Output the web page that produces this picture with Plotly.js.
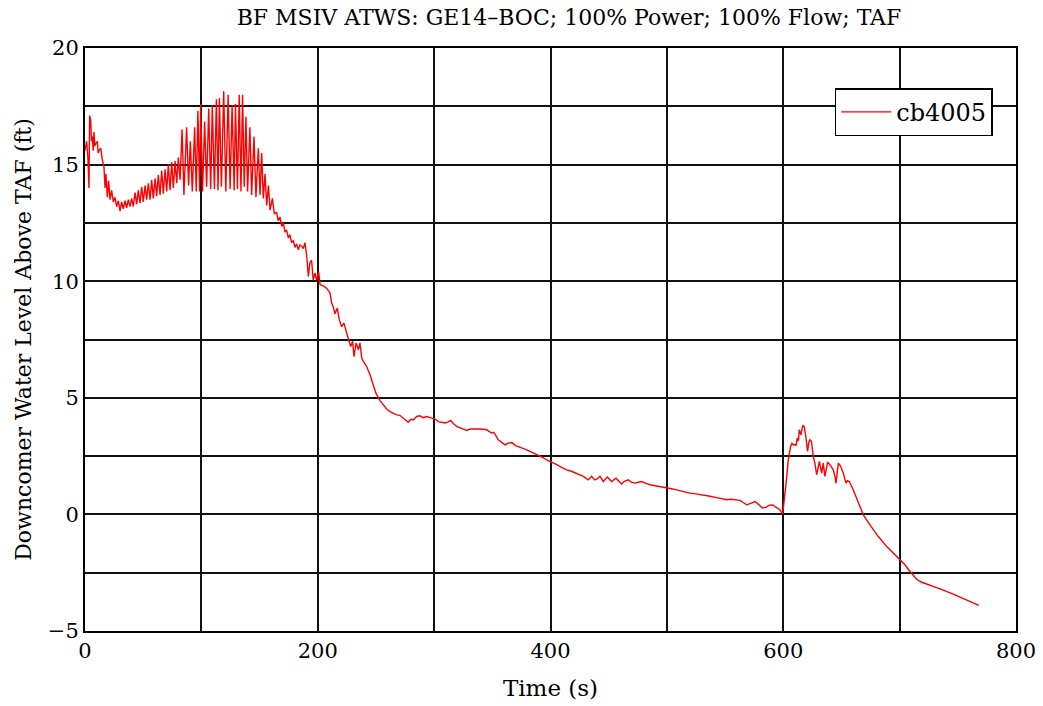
<!DOCTYPE html>
<html>
<head>
<meta charset="utf-8">
<script src="https://cdn.plot.ly/plotly-3.0.1.min.js"></script>
<style>html,body{margin:0;padding:0;background:#fff;}#chart{width:1043px;height:706px;}</style>
</head>
<body>
<div id="chart"></div>
<script>
const seriesName = "cb4005";
const time = [0,1.4,2.6,3.4,4.0,4.9,5.6,6.3,7.0,7.7,8.5,9.2,10.6,11.3,12.0,13.5,14.9,16.3,17.2,18.0,19.2,20.3,21.5,22.9,24.3,25.8,27.2,28.6,30.1,31.5,32.9,34.4,35.8,37.2,38.7,40.1,41.5,43.0,44.4,45.8,47.3,48.7,50.1,51.6,53.0,54.4,55.9,57.3,58.7,60.2,61.6,63.0,64.5,65.9,67.3,68.8,70.2,71.6,73.1,74.5,75.9,77.4,78.8,80.2,81.7,83.4,85.0,87.3,89.0,90.5,92.2,94.2,95.6,97.0,98.5,99.4,101.0,102.8,104.5,106.3,108.0,109.4,111.2,112.9,114.3,115.5,117.2,119.2,121.0,123.0,124.7,126.4,128.2,129.3,131.0,132.5,134.0,135.4,136.8,138.3,139.7,141.7,143.2,145.2,146.9,148.9,150.4,151.8,153.2,154.7,156.1,157.6,159.0,161.0,162.7,164.7,166.0,167.6,169.0,170.5,171.8,173.2,174.7,176.0,177.6,179.0,180.4,181.8,183.3,184.7,186.2,187.6,189.0,190.5,191.9,193.3,194.7,196.1,197.6,199.0,200.8,202.0,204.8,207.6,210.5,212.0,213.3,214.8,216.8,218.5,220.5,222.5,224.9,226.3,228.3,230.0,231.1,232.9,234.9,236.3,237.8,239.2,242.0,244.9,247.7,250.0,253.5,256.3,259.2,262.0,264.9,267.8,270.5,273.5,275.5,277.8,280.0,282.1,285.0,287.8,290.5,293.6,297.9,300.5,303.6,306.5,309.3,312.0,314.2,316.5,319.4,323.0,326.0,328.0,331.0,333.7,338.0,342.0,345.2,347.5,349.5,351.0,352.4,355.1,358.0,360.9,363.5,366.6,370.0,373.8,378.0,382.4,386.0,389.5,393.0,396.7,401.0,405.3,409.5,414.0,418.0,422.5,425.3,428.2,432.5,435.3,438.0,440.0,442.5,445.4,448.8,452.5,456.3,458.5,461.1,463.5,466.8,469.5,472.6,475.5,478.3,482.0,485.5,490.0,494.0,499.8,504.0,508.4,514.0,519.9,525.0,531.3,537.0,542.8,547.0,551.4,555.0,558.5,562.8,566.0,568.6,572.0,575.7,579.0,582.0,585.0,588.0,591.0,594.3,597.0,599.5,601.5,602.8,604.3,606.3,607.5,608.6,610.0,611.0,612.0,613.0,613.8,615.2,616.7,618.0,619.4,620.9,622.0,622.9,624.3,625.8,627.2,628.7,630.0,631.0,633.0,634.4,635.8,637.0,638.1,640.1,643.0,644.5,645.3,647.3,649.3,651.6,653.9,655.0,656.8,660.2,664.5,668.8,674.5,681.7,688.9,697.5,704.6,708.9,714.6,718.5,723.2,734.7,746.1,757.6,766.2,768.0];
const level = [15.6,16.0,15.2,14.0,17.1,16.9,16.0,16.2,15.6,16.4,15.8,15.9,16.0,15.5,15.6,15.7,15.2,14.9,14.0,14.6,13.6,14.3,13.5,13.9,13.4,13.6,13.2,13.45,13.0,13.4,13.1,13.45,13.15,13.5,13.2,13.55,13.2,13.8,13.3,13.9,13.35,14.05,13.4,14.1,13.5,14.2,13.5,14.35,13.55,14.4,13.65,14.55,13.7,14.75,13.75,14.8,13.85,15.0,13.9,15.1,14.0,15.15,14.2,15.3,14.35,16.5,13.7,16.6,14.1,16.0,13.85,16.6,13.85,17.3,13.85,17.6,13.85,16.85,14.05,17.4,13.95,17.55,13.95,17.8,13.9,17.85,14.05,18.15,13.85,18.0,13.95,17.55,13.9,17.6,13.95,18.0,13.85,18.0,14.05,17.05,13.85,16.6,13.7,16.2,13.6,15.7,13.7,15.5,13.55,14.6,13.25,14.1,13.05,13.55,12.9,12.95,12.6,12.75,12.35,12.5,12.1,12.2,11.85,12.0,11.65,11.75,11.45,11.6,11.35,11.55,11.5,11.4,11.65,11.1,10.2,10.8,10.9,10.05,10.35,10.05,10.4,9.85,9.8,9.7,9.5,9.05,8.9,8.6,8.85,8.35,8.05,8.2,7.77,7.49,7.2,7.42,6.77,7.35,7.06,7.35,6.7,6.56,6.34,5.99,5.56,5.2,4.88,4.7,4.52,4.41,4.35,4.27,4.25,4.13,4.05,3.95,4.08,4.05,4.2,4.23,4.15,4.2,4.13,4.1,3.98,3.95,3.92,3.97,4.03,3.9,3.77,3.7,3.65,3.6,3.66,3.67,3.66,3.65,3.63,3.55,3.49,3.52,3.43,3.2,3.1,2.98,3.05,3.08,2.95,2.89,2.8,2.7,2.62,2.56,2.45,2.34,2.25,2.13,2.02,1.91,1.85,1.75,1.7,1.63,1.48,1.63,1.48,1.52,1.63,1.41,1.6,1.41,1.55,1.42,1.3,1.42,1.48,1.38,1.34,1.38,1.41,1.33,1.27,1.23,1.2,1.13,1.1,1.05,0.98,0.91,0.88,0.84,0.78,0.72,0.68,0.63,0.65,0.63,0.6,0.5,0.41,0.47,0.55,0.42,0.27,0.3,0.4,0.41,0.31,0.2,0.01,0.77,1.5,2.34,2.91,3.05,2.98,3.0,2.95,3.27,3.15,3.63,3.41,3.8,3.77,3.34,2.7,3.1,3.2,3.12,2.48,2.2,1.7,2.0,2.27,1.77,2.2,1.63,2.0,2.24,2.13,1.91,1.6,1.34,2.2,2.06,1.77,1.34,1.45,1.41,1.05,0.48,-0.02,-0.45,-0.95,-1.38,-1.83,-2.16,-2.45,-2.78,-2.9,-2.98,-3.19,-3.42,-3.66,-3.85,-3.9];
const xTickVals = [0,100,200,300,400,500,600,700,800];
const xTickText = ["0","","200","","400","","600","","800"];
const yTickVals = [-5,-2.5,0,2.5,5,7.5,10,12.5,15,17.5,20];
const yTickText = ["\u22125","","0","","5","","10","","15","","20"];

const font = "DejaVu Serif";
const trace = {
  x: time, y: level, type: "scatter", mode: "lines", name: seriesName,
  line: {color: "#ff0000", width: 1.4}
};
const axisCommon = {
  showline: true, mirror: true, linecolor: "#000", linewidth: 2,
  showgrid: true, gridcolor: "#111", gridwidth: 2,
  zeroline: false, ticks: "", tickmode: "array",
  tickfont: {family: font, size: 21, color: "#000"}
};
const layout = {
  width: 1043, height: 706,
  margin: {l: 85, r: 27, t: 48, b: 75},
  paper_bgcolor: "#fff", plot_bgcolor: "#fff",
  title: {text: "BF MSIV ATWS: GE14\u2013BOC; 100% Power; 100% Flow; TAF",
          font: {family: font, size: 22, color: "#000"}, x: 0.5455, xanchor: "center", y: 0.975, yanchor: "middle"},
  xaxis: Object.assign({}, axisCommon, {range: [0, 800], tickvals: xTickVals, ticktext: xTickText,
          title: {text: "Time (s)", font: {family: font, size: 23, color: "#000"}, standoff: 18}}),
  yaxis: Object.assign({}, axisCommon, {range: [-5, 20], tickvals: yTickVals, ticktext: yTickText,
          title: {text: "Downcomer Water Level Above TAF (ft)", font: {family: font, size: 22, color: "#000"}, standoff: 10}}),
  showlegend: true,
  legend: {x: 0.975, y: 0.931, xanchor: "right", yanchor: "top", bgcolor: "#fff",
           bordercolor: "#000", borderwidth: 1.5, itemwidth: 50,
           font: {family: font, size: 24, color: "#000"}}
};
Plotly.newPlot("chart", [trace], layout, {displayModeBar: false, staticPlot: true});
</script>
</body>
</html>
